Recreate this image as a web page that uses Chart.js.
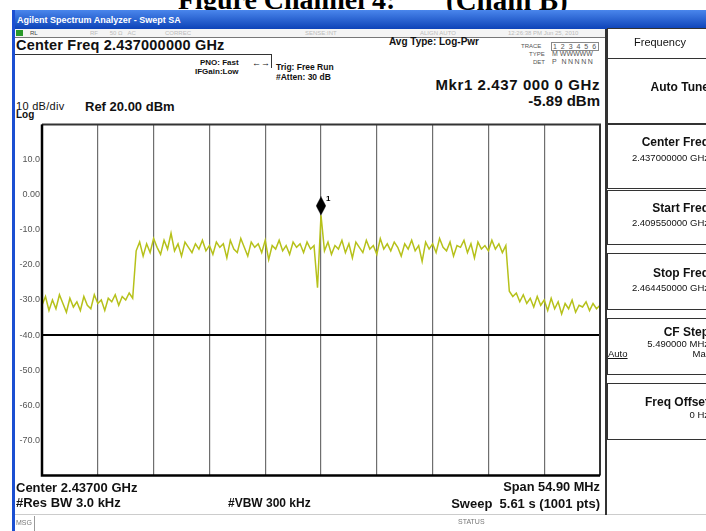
<!DOCTYPE html>
<html>
<head>
<meta charset="utf-8">
<script src="https://cdn.jsdelivr.net/npm/chart.js@4/dist/chart.umd.min.js"></script>
<style>
body { margin:0; width:706px; height:531px; overflow:hidden; background:#fff; position:relative;
       font-family:"Liberation Sans", Arial, sans-serif; }
.t { position:absolute; white-space:nowrap; color:#111; font-weight:bold; line-height:1; }
.n { font-weight:normal; }
.g { color:#777; font-weight:normal; }
.r { text-align:right; }
.cap { position:absolute; white-space:nowrap; color:#000; font:bold 28px 'Liberation Serif','Times New Roman',serif; line-height:28px; top:-14px; }
.box { position:absolute; left:607px; width:120px; border:1px solid #333; border-right:none; background:#fff; }
#plotWrap { position:absolute; left:15px; top:117px; width:592px; height:366px; }
</style>
</head>
<body>

<!-- figure caption, cropped at the top -->
<div class="cap" style="left:178px;">Figure Channel 4:</div>
<div class="cap" style="left:446px;font-size:29px;">(Chain B)</div>

<!-- window frame -->
<div style="position:absolute;left:12px;top:10px;width:694px;height:19px;background:linear-gradient(#4a86ec,#0d43b8);"></div>
<div style="position:absolute;left:12px;top:10px;width:3px;height:521px;background:#1b4fd2;"></div>
<div class="t" style="left:17px;top:16px;font-size:9px;color:#fff;">Agilent Spectrum Analyzer - Swept SA</div>

<!-- status row -->
<div style="position:absolute;left:15px;top:29px;width:590px;height:8px;background:#f4f4f4;border-bottom:1px solid #777;"></div>
<div style="position:absolute;left:16px;top:30px;width:7px;height:6px;background:#2a9a2a;"></div>
<div class="t g" style="left:30px;top:30px;font-size:6px;color:#444;">RL</div>
<div class="t g" style="left:90px;top:30px;font-size:6px;color:#bbb;">RF&nbsp;&nbsp;&nbsp;&nbsp;&nbsp;&nbsp;&nbsp;50 Ω&nbsp;&nbsp;&nbsp;AC</div>
<div class="t g" style="left:165px;top:30px;font-size:6px;color:#bbb;">CORREC</div>
<div class="t g" style="left:305px;top:30px;font-size:6px;color:#bbb;">SENSE:INT</div>
<div class="t g" style="left:420px;top:30px;font-size:6px;color:#bbb;">ALIGN AUTO</div>
<div class="t g" style="left:508px;top:30px;font-size:6px;color:#bbb;">12:26:38 PM Jun 25, 2010</div>

<!-- header -->
<div class="t" style="left:16px;top:38px;font-size:14.5px;letter-spacing:0.2px;">Center Freq 2.437000000 GHz</div>
<div style="position:absolute;left:15px;top:54px;width:256px;height:1px;background:#333;"></div>
<div style="position:absolute;left:271px;top:54px;width:1px;height:14px;background:#333;"></div>
<div class="t" style="left:200px;top:59px;font-size:8px;">PNO: Fast</div>
<div class="t" style="left:195px;top:68px;font-size:8px;">IFGain:Low</div>
<div class="t n" style="left:252px;top:59px;font-size:9px;">&#8592;&#8594;</div>
<div class="t" style="left:276px;top:63px;font-size:8.5px;">Trig: Free Run</div>
<div class="t" style="left:276px;top:73px;font-size:8.5px;">#Atten: 30 dB</div>
<div class="t" style="left:389px;top:37px;font-size:10px;">Avg Type: Log-Pwr</div>

<div class="t g" style="left:521px;top:43px;font-size:6px;color:#555;">TRACE</div>
<div class="t g" style="left:551px;top:42px;font-size:7px;color:#555;border:1px solid #888;padding:0 1px;letter-spacing:1px;">1 2 3 4 5 6</div>
<div class="t g" style="left:529px;top:51px;font-size:6px;color:#555;">TYPE</div>
<div class="t g" style="left:552px;top:50px;font-size:7px;color:#555;">M WWWWW</div>
<div class="t g" style="left:533px;top:59px;font-size:6px;color:#555;">DET</div>
<div class="t g" style="left:552px;top:58px;font-size:7px;color:#555;letter-spacing:1.5px;">P NNNNN</div>

<div class="t r" style="right:106px;top:77px;font-size:15px;letter-spacing:0.6px;">Mkr1 2.437 000 0 GHz</div>
<div class="t r" style="right:106px;top:93px;font-size:15px;">-5.89 dBm</div>

<div class="t n" style="left:16px;top:101px;font-size:11px;letter-spacing:0.3px;">10 dB/div</div>
<div class="t" style="left:16px;top:110px;font-size:10px;">Log</div>
<div class="t" style="left:85px;top:100px;font-size:13px;">Ref 20.00 dBm</div>

<!-- plot -->
<div id="plotWrap"><canvas id="specChart" width="592" height="366"></canvas></div>

<!-- footer -->
<div class="t" style="left:16px;top:481px;font-size:13px;">Center 2.43700 GHz</div>
<div class="t" style="left:16px;top:496px;font-size:13px;">#Res BW 3.0 kHz</div>
<div class="t" style="left:228px;top:497px;font-size:12px;">#VBW 300 kHz</div>
<div class="t r" style="right:106px;top:481px;font-size:12.8px;">Span 54.90 MHz</div>
<div class="t r" style="right:106px;top:497px;font-size:13px;">Sweep&nbsp;&nbsp;5.61 s (1001 pts)</div>
<div style="position:absolute;left:15px;top:514px;width:691px;height:1px;background:#ccc;"></div>
<div class="t g" style="left:16px;top:519px;font-size:7px;">MSG</div>
<div style="position:absolute;left:34px;top:516px;width:1px;height:15px;background:#999;"></div>
<div class="t g" style="left:458px;top:518px;font-size:7px;">STATUS</div>

<!-- softkeys -->
<div style="position:absolute;left:605px;top:29px;width:2px;height:486px;background:#333;"></div>
<div class="box" style="top:28px;height:29px;"></div>
<div class="t n" style="left:607px;width:106px;text-align:center;top:37px;font-size:11px;">Frequency</div>

<div class="box" style="top:58px;height:64px;"></div>
<div class="t r" style="left:607px;width:102px;top:81px;font-size:12px;">Auto Tune</div>

<div class="box" style="top:124px;height:63px;"></div>
<div class="t r" style="left:607px;width:102px;top:136px;font-size:12px;">Center Freq</div>
<div class="t n r" style="left:607px;width:102px;top:153px;font-size:9.5px;">2.437000000 GHz</div>

<div class="box" style="top:190px;height:53px;"></div>
<div class="t r" style="left:607px;width:102px;top:202px;font-size:12px;">Start Freq</div>
<div class="t n r" style="left:607px;width:102px;top:218px;font-size:9.5px;">2.409550000 GHz</div>

<div class="box" style="top:253px;height:55px;"></div>
<div class="t r" style="left:607px;width:102px;top:267px;font-size:12px;">Stop Freq</div>
<div class="t n r" style="left:607px;width:102px;top:283px;font-size:9.5px;">2.464450000 GHz</div>

<div class="box" style="top:318px;height:55px;"></div>
<div class="t r" style="left:607px;width:102px;top:326px;font-size:12px;">CF Step</div>
<div class="t n r" style="left:607px;width:102px;top:339px;font-size:9.5px;">5.490000 MHz</div>
<div class="t n" style="left:608px;top:349px;font-size:9.5px;text-decoration:underline;">Auto</div>
<div class="t n r" style="left:607px;width:104px;top:349px;font-size:9.5px;">Man</div>

<div class="box" style="top:383px;height:55px;"></div>
<div class="t r" style="left:607px;width:102px;top:396px;font-size:12px;">Freq Offset</div>
<div class="t n r" style="left:607px;width:102px;top:410px;font-size:9.5px;">0 Hz</div>

<script>
// sweep limits (GHz)
const startGHz = 2.40955;
const stopGHz = 2.46445;

// vertical graticule (10 divisions of 5.49 MHz)
const gridFreqs = [2.40955, 2.41504, 2.42053, 2.42602, 2.43151, 2.43700,
                   2.44249, 2.44798, 2.45347, 2.45896, 2.46445];

// amplitude graticule, 10 dB/div from Ref 20 dBm
const levelTicks = [20, 10, 0, -10, -20, -30, -40, -50, -60, -70, -80];
const levelLabels = ['', '10.0', '0.00', '-10.0', '-20.0', '-30.0', '-40.0', '-50.0', '-60.0', '-70.0', ''];

// trace levels in dBm
const lowerFloor = [-31.5, -29.0, -33.0, -30.0, -32.5, -28.5, -31.0, -33.5, -29.5, -32.0,
                    -30.5, -33.0, -29.0, -31.5, -32.5, -28.5, -31.0, -30.0, -33.0, -29.5,
                    -30.5, -28.5, -31.5, -29.0, -30.0, -28.0, -29.5];
const channelBand = [-16.0, -13.5, -17.5, -14.0, -16.5, -12.5, -15.0, -17.0, -13.0, -15.5,
                     -11.0, -16.0, -14.0, -17.5, -13.5, -15.0, -16.5, -14.0, -15.5, -13.0,
                     -16.0, -14.5, -17.0, -13.5, -15.0, -14.0, -18.0, -13.0, -15.5, -16.5,
                     -12.5, -15.0, -17.5, -13.5, -15.0, -14.0, -16.5, -13.0, -18.5, -14.5,
                     -15.5, -13.0, -16.0, -14.5, -17.0, -13.5, -15.0, -14.0, -16.5, -13.5,
                     -15.5, -14.5, -26.5, -5.89, -16.0, -13.5, -17.0, -14.5, -15.5, -13.0,
                     -16.5, -14.0, -18.0, -13.5, -15.0, -16.5, -13.0, -15.5, -14.5, -17.0,
                     -12.5, -15.5, -14.0, -16.0, -13.5, -15.0, -17.5, -14.0, -15.5, -13.0,
                     -16.0, -14.5, -19.0, -13.5, -15.5, -14.0, -16.5, -12.5, -15.0, -16.0,
                     -13.5, -17.5, -14.5, -15.0, -13.0, -16.5, -14.0, -18.0, -13.5, -15.5,
                     -14.5, -16.0, -13.0, -15.5, -14.0, -16.5, -14.5];
const upperFloor = [-27.5, -29.0, -28.0, -30.5, -28.5, -31.0, -29.5, -32.0, -29.0, -31.5,
                    -30.0, -33.0, -29.5, -32.5, -30.5, -34.0, -31.0, -32.5, -30.0, -33.5,
                    -31.5, -32.0, -30.5, -33.0, -31.0, -32.5, -31.5];

// marker 1
const markerFreq = 2.437;
const markerLevel = -5.89;

const traceLevels = lowerFloor.concat(channelBand, upperFloor);
const binWidth = (stopGHz - startGHz) / (traceLevels.length - 1);
const tracePoints = traceLevels.map((v, i) => ({ x: startGHz + i * binWidth, y: v }));

// tall diamond, sitting on top of the marked point
function makeMarkerImage() {
    const c = document.createElement('canvas');
    c.width = 12; c.height = 38;
    const g = c.getContext('2d');
    g.fillStyle = '#000';
    g.beginPath();
    g.moveTo(6, 0); g.lineTo(11, 9.5); g.lineTo(6, 19); g.lineTo(1, 9.5);
    g.closePath();
    g.fill();
    return c;
}

const framePlugin = {
    id: 'frame',
    afterDraw(chart) {
        const { ctx, chartArea: a } = chart;
        ctx.save();
        ctx.strokeStyle = '#333';
        ctx.lineWidth = 2;
        ctx.beginPath();
        ctx.moveTo(a.left, a.top); ctx.lineTo(a.right, a.top); ctx.lineTo(a.right, a.bottom);
        ctx.stroke();
        ctx.strokeStyle = '#000';
        ctx.lineWidth = 2.5;
        ctx.beginPath();
        ctx.moveTo(a.left, a.top); ctx.lineTo(a.left, a.bottom); ctx.lineTo(a.right, a.bottom);
        ctx.stroke();
        // marker number
        const pt = chart.getDatasetMeta(1).data[0];
        if (pt) {
            ctx.fillStyle = '#000';
            ctx.font = 'bold 8px "Liberation Sans", Arial';
            ctx.fillText('1', pt.x + 5, pt.y - 14);
        }
        ctx.restore();
    }
};

new Chart(document.getElementById('specChart').getContext('2d'), {
    type: 'line',
    data: {
        datasets: [
            {
                data: tracePoints,
                borderColor: '#b6c11a',
                borderWidth: 1.5,
                pointRadius: 0,
                tension: 0,
                fill: false
            },
            {
                data: [{ x: markerFreq, y: markerLevel }],
                showLine: false,
                pointStyle: makeMarkerImage(),
                pointRadius: 6,
                clip: false
            }
        ]
    },
    options: {
        responsive: false,
        animation: false,
        devicePixelRatio: 1,
        layout: { padding: { top: 5, right: 5, bottom: 6, left: 0 } },
        plugins: { legend: { display: false }, tooltip: { enabled: false } },
        scales: {
            x: {
                type: 'linear',
                min: startGHz,
                max: stopGHz,
                afterBuildTicks: s => { s.ticks = gridFreqs.map(v => ({ value: v })); },
                afterFit: s => { s.height = 0; },
                ticks: { display: false },
                border: { display: false },
                grid: { color: '#6e6e6e', lineWidth: 1.2, drawTicks: false }
            },
            y: {
                min: -80,
                max: 20,
                afterBuildTicks: s => { s.ticks = levelTicks.map(v => ({ value: v })); },
                afterFit: s => { s.width = 27; },
                ticks: {
                    padding: 2,
                    color: '#555',
                    font: { size: 9, family: '"Liberation Sans", Arial' },
                    callback: v => levelLabels[levelTicks.indexOf(v)]
                },
                border: { display: false },
                grid: {
                    drawTicks: false,
                    color: c => (c.tick && c.tick.value === -40) ? '#000' : 'rgba(0,0,0,0)',
                    lineWidth: c => (c.tick && c.tick.value === -40) ? 2 : 1
                }
            }
        }
    },
    plugins: [framePlugin]
});
</script>
</body>
</html>
